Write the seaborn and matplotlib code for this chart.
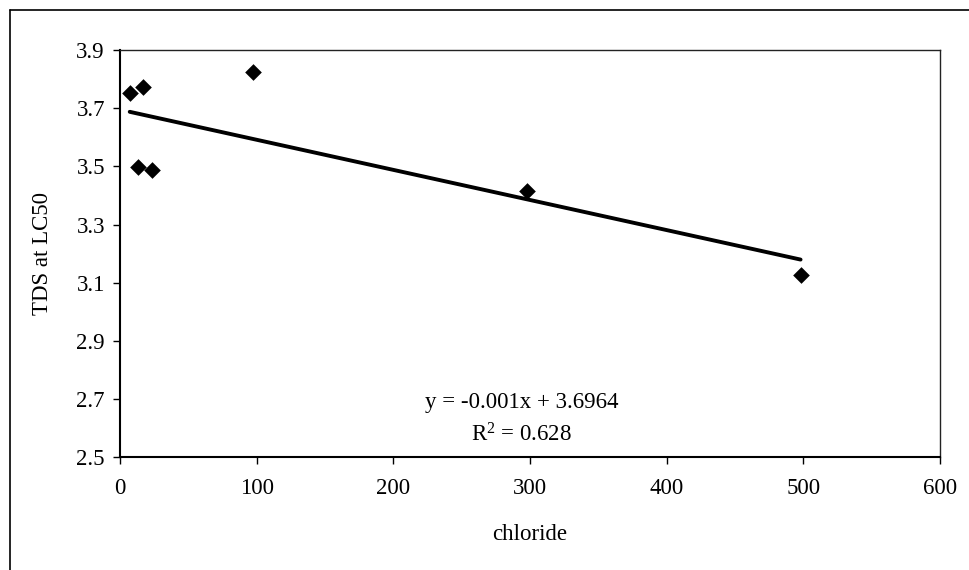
import numpy as np
import matplotlib
matplotlib.use("Agg")
import matplotlib.pyplot as plt
from matplotlib.lines import Line2D
import seaborn as sns

# values
chloride = [7, 13, 17, 23, 97.5, 298, 498]
tds_lc50 = [3.754, 3.499, 3.772, 3.487, 3.825, 3.416, 3.126]

x_ticks = [0, 100, 200, 300, 400, 500, 600]
y_ticks = [2.5, 2.7, 2.9, 3.1, 3.3, 3.5, 3.7, 3.9]

eq_text = "y = -0.001x + 3.6964"
r2_text = "R$^2$ = 0.628"

sns.set_style("ticks")
plt.rcParams['font.family'] = ['Liberation Serif', 'DejaVu Serif']
plt.rcParams['mathtext.fontset'] = 'custom'
plt.rcParams['mathtext.rm'] = 'Liberation Serif'
plt.rcParams['mathtext.it'] = 'Liberation Serif:italic'
for key in ["text.color", "axes.labelcolor", "xtick.color", "ytick.color"]:
    plt.rcParams[key] = "black"

fs = 16.5

fig, ax = plt.subplots(figsize=(9.69, 5.7), dpi=100)
fig.subplots_adjust(left=0.124, right=0.970, top=0.912, bottom=0.198)

sns.regplot(x=chloride, y=tds_lc50, ci=None, marker="D", color="black",
            scatter_kws={"s": 72, "linewidths": 0, "alpha": 1},
            line_kws={"lw": 2.8}, ax=ax)

ax.set_xlim(0, 600)
ax.set_ylim(2.5, 3.9)
ax.set_xticks(x_ticks)
ax.set_yticks(y_ticks)
ax.set_yticklabels([f"{v:.1f}" for v in y_ticks])

ax.tick_params(direction="out", length=5, width=1, labelsize=fs, colors="black")
ax.tick_params(axis="x", pad=10)
ax.tick_params(axis="y", pad=6)

for side in ["left", "bottom"]:
    ax.spines[side].set_linewidth(1.5)
    ax.spines[side].set_color("black")
for side in ["top", "right"]:
    ax.spines[side].set_visible(True)
    ax.spines[side].set_linewidth(1.0)
    ax.spines[side].set_color("#222222")

ax.set_xlabel("chloride", fontsize=fs)
ax.set_ylabel("TDS at LC50", fontsize=fs)
ax.xaxis.set_label_coords(0.5, -0.165)
ax.yaxis.set_label_coords(-0.082, 0.5)

ax.text(0.49, 0.135, eq_text, transform=ax.transAxes, ha="center", va="center", fontsize=fs)
ax.text(0.49, 0.054, r2_text, transform=ax.transAxes, ha="center", va="center", fontsize=fs)

# outer chart border (cropped on right and bottom in the scan)
fig.add_artist(Line2D([10 / 969, 1.0], [1 - 10 / 570, 1 - 10 / 570], color="black", lw=1.2))
fig.add_artist(Line2D([10 / 969, 10 / 969], [0.0, 1 - 10 / 570], color="black", lw=1.2))

fig.savefig("out.png", dpi=100)
